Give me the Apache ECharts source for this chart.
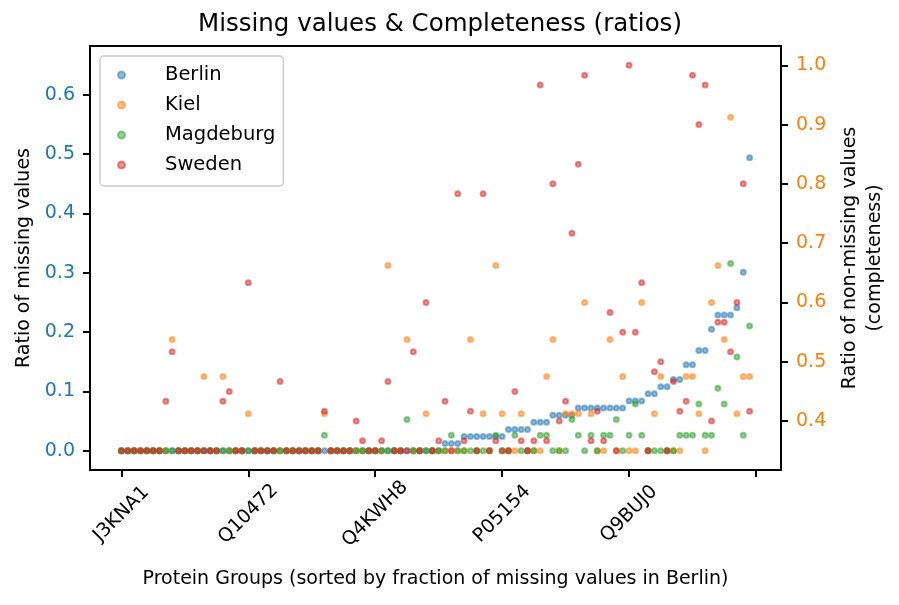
<!DOCTYPE html>
<html><head><meta charset="utf-8">
<script src="https://cdn.jsdelivr.net/npm/echarts@6/dist/echarts.min.js"></script>
<style>html,body{margin:0;padding:0;background:#fff}#c{width:899px;height:605px}</style>
</head><body><div id="c"></div>
<script>
// x tick positions (protein group index) and their labels
const tickPositions = [0, 20, 40, 60, 80];
const tickLabels = ['J3KNA1', 'Q10472', 'Q4KWH8', 'P05154', 'Q9BUJ0'];
const extraTicks = [100];

const seriesNames = ['Berlin', 'Kiel', 'Magdeburg', 'Sweden'];

const berlin = [
  0,0,0,0,0,0,0,0,0,0,
  0,0,0,0,0,0,0,0,0,0,
  0,0,0,0,0,0,0,0,0,0,
  0,0,0,0,0,0,0,0,0,0,
  0,0,0,0,0,0,0,0,0,0,
  0,0.012,0.012,0.012,0.024,0.024,0.024,0.024,0.024,0.024,
  0.024,0.036,0.036,0.036,0.036,0.048,0.048,0.048,0.060,0.060,
  0.060,0.060,0.072,0.072,0.072,0.072,0.072,0.072,0.072,0.072,
  0.084,0.084,0.084,0.096,0.096,0.108,0.108,0.120,0.120,0.145,
  0.145,0.169,0.169,0.205,0.229,0.229,0.229,0.241,0.301,0.494
];
const kiel = [
  0,0,0,0,0,0,0,0,0.1875,0,
  0,0,0,0.125,0,0,0.125,0,0,0,
  0.0625,0,0,0,0,0,0,0,0,0,
  0,0,0.0625,0,0,0,0,0,0,0,
  0,0,0.3125,0,0,0.1875,0,0,0.0625,0,
  0,0,0,0,0,0.1875,0,0.0625,0,0.3125,
  0.0625,0,0,0.0625,0,0,0,0.125,0.1875,0,
  0.0625,0.0625,0.0625,0.25,0.0625,0,0,0.1875,0,0.125,
  0,0,0.25,0,0.0625,0.125,0,0,0,0.125,
  0.125,0.0625,0,0.25,0.3125,0.1875,0.5625,0.0625,0.125,0.125
];
const magdeburg = [
  0,0,0,0,0,0,0,0,0,0,
  0,0,0,0,0,0,0,0,0,0,
  0,0,0,0,0,0,0,0,0,0,
  0,0,0.0263,0,0,0,0,0,0,0,
  0,0,0,0,0,0.0526,0,0,0,0,
  0,0,0.0263,0,0,0,0,0,0,0.0263,
  0,0,0.0263,0,0,0,0.0263,0.0263,0,0,
  0,0.0526,0.0263,0,0.0263,0,0.0263,0.0263,0.0526,0,
  0.0263,0.0789,0.0263,0,0,0,0,0,0.0263,0.0263,
  0.0263,0.0789,0.0263,0.0263,0.1053,0.0789,0.3158,0.1579,0.0263,0.2105
];
const sweden = [
  0,0,0,0,0,0,0,0.0833,0.1667,0,
  0,0,0,0,0,0,0.0833,0.1,0,0,
  0.2833,0,0,0,0,0.1167,0,0,0,0,
  0,0,0.0667,0,0,0,0,0.05,0.0167,0,
  0,0.0167,0.1167,0,0,0,0.1667,0,0.25,0,
  0.0167,0.0833,0,0.4333,0.0167,0.0667,0,0.4333,0,0.0167,
  0,0,0.1,0.0167,0,0.0167,0.6167,0.0167,0.45,0.05,
  0.0833,0.3667,0.4833,0.6333,0.0167,0.0667,0.0167,0.2333,0,0.2,
  0.65,0.2,0.2833,0,0.1333,0.15,0,0.1167,0.0667,0.0833,
  0.6333,0.55,0.6167,0.05,0.2167,0.2167,0.1667,0.25,0.45,0.0667
];

const leftTicks = [0, 0.1, 0.2, 0.3, 0.4, 0.5, 0.6];
const rightTicks = [0.4, 0.5, 0.6, 0.7, 0.8, 0.9, 1.0];

const colors = ['31,119,180', '255,127,14', '44,160,44', '214,39,40'];
const FONT = 'DejaVu Sans';
const allValues = [berlin, kiel, magdeburg, sweden];

const series = allValues.map((vals, k) => ({
  type: 'scatter',
  name: seriesNames[k],
  data: vals.map((v, i) => [i, v]),
  symbol: 'circle',
  symbolSize: 5,
  itemStyle: {
    color: 'rgba(' + colors[k] + ',0.5)',
    borderColor: 'rgba(' + colors[k] + ',0.5)',
    borderWidth: 2,
    opacity: 1
  },
  emphasis: { disabled: true },
  silent: true,
  z: 2
}));

const chart = echarts.init(document.getElementById('c'), null, { renderer: 'canvas' });
const axisLine = { show: true, onZero: false, lineStyle: { color: '#000', width: 2 } };
const axisTickBase = { show: true, length: 7, lineStyle: { color: '#000', width: 2 } };

chart.setOption({
  animation: false,
  backgroundColor: '#fff',
  title: {
    text: 'Missing values & Completeness (ratios)',
    left: 435, top: 7, textAlign: 'center',
    textStyle: { fontFamily: FONT, fontSize: 24.5, fontWeight: 'normal', color: '#000' }
  },
  legend: {
    data: seriesNames,
    orient: 'vertical',
    left: 100, top: 56,
    padding: [9, 8, 11, 17],
    itemWidth: 7, itemHeight: 7, itemGap: 10,
    icon: 'circle',
    backgroundColor: 'rgba(255,255,255,0.8)',
    borderColor: '#cccccc', borderWidth: 1.5, borderRadius: 4,
    formatter: n => '{t|' + n + '}',
    textStyle: {
      rich: { t: { fontFamily: FONT, fontSize: 19.5, color: '#000', lineHeight: 20, padding: [0, 0, 0, 35] } }
    }
  },
  grid: { left: 90, right: 118, top: 46, bottom: 135, show: true, borderColor: '#000', borderWidth: 2, backgroundColor: 'transparent' },
  xAxis: {
    type: 'value', min: -4.95, max: 103.95,
    name: 'Protein Groups (sorted by fraction of missing values in Berlin)',
    nameLocation: 'middle', nameGap: 100,
    nameTextStyle: { fontFamily: FONT, fontSize: 19, color: '#000' },
    axisLine: axisLine,
    axisTick: Object.assign({}, axisTickBase, { customValues: tickPositions.concat(extraTicks) }),
    splitLine: { show: false },
    axisLabel: {
      customValues: tickPositions,
      formatter: v => tickLabels[tickPositions.indexOf(Math.round(v))] || '',
      rotate: 45, align: 'center', verticalAlign: 'middle', margin: 44,
      fontFamily: FONT, fontSize: 19, color: '#000'
    }
  },
  yAxis: [{
    type: 'value', min: -0.0325, max: 0.6825, position: 'left',
    name: 'Ratio of missing values', nameLocation: 'middle', nameGap: 56, nameRotate: 90,
    nameTextStyle: { fontFamily: FONT, fontSize: 19, color: '#000' },
    axisLine: axisLine,
    axisTick: Object.assign({}, axisTickBase, { customValues: leftTicks }),
    splitLine: { show: false },
    axisLabel: {
      customValues: leftTicks, formatter: v => v.toFixed(1), margin: 15,
      fontFamily: FONT, fontSize: 19, color: '#1f77b4'
    }
  }, {
    type: 'value', min: 0.3175, max: 1.0325, position: 'right',
    name: 'Ratio of non-missing values\n(completeness)', nameLocation: 'middle', nameGap: 55, nameRotate: 90,
    nameTextStyle: { fontFamily: FONT, fontSize: 19, color: '#000', lineHeight: 25, align: 'center' },
    axisLine: axisLine,
    axisTick: Object.assign({}, axisTickBase, { customValues: rightTicks }),
    splitLine: { show: false },
    axisLabel: {
      customValues: rightTicks, formatter: v => v.toFixed(1), margin: 15,
      fontFamily: FONT, fontSize: 19, color: '#ff7f0e'
    }
  }],
  series: series
});
</script></body></html>
